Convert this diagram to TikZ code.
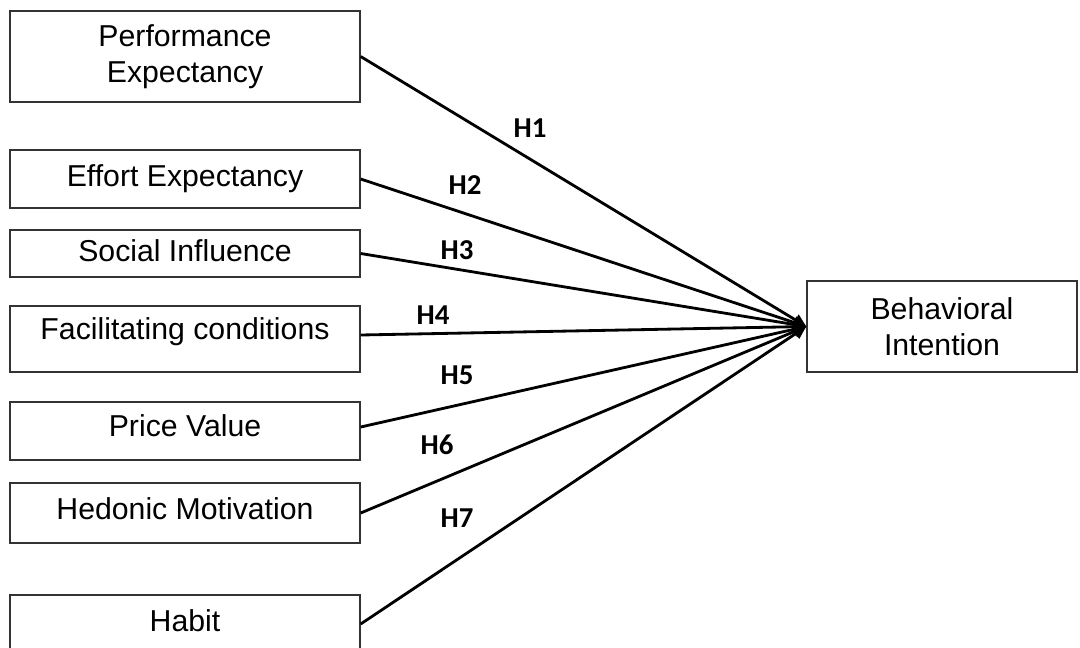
\documentclass[tikz,border=0pt]{standalone}
\usepackage{fontspec}
\setmainfont{Liberation Sans}
\newfontfamily\hfont{Carlito}
\usetikzlibrary{arrows.meta}

\begin{document}
\begin{tikzpicture}[x=0.025cm, y=-0.025cm,
    box/.style={draw=black!80, line width=0.9pt, minimum width=8.75cm, align=center,
        font=\fontsize{21.5}{25.5}\selectfont, inner sep=0pt},
    hyp/.style={font=\hfont\bfseries\fontsize{20.5}{24}\selectfont},
    link/.style={draw, line width=2pt, -{Triangle[length=0.32cm, width=0.3cm]}}]
        \clip (0,0) rectangle (1080,647);
        \useasboundingbox (0,0) rectangle (1080,647);
        \foreach \i/\y/\h/\d/\w in {1/56.5/2.275/0.15/{Performance\\Expectancy}, 2/179/1.45/0.15/{Effort Expectancy},
            3/253.5/1.175/0.15/{Social Influence}, 4/339/1.65/0.5/{Facilitating conditions},
            5/431/1.45/0.25/{Price Value}, 6/513/1.5/0.2/{Hedonic Motivation}, 7/624/1.45/0.15/{Habit}}{
            \node[box, minimum height=\h cm, text depth=\d cm] (b\i) at(185,\y) {\w};
        }
        \node[box, minimum width=6.75cm, minimum height=2.275cm] (bi) at(942,326.5) {Behavioral\\Intention};
        \foreach \i/\x/\y in {1/530/128, 2/465/185, 3/457/250, 4/433/315, 5/457/375, 6/437/445, 7/457/518}{
            \node[hyp] (h\i) at(\x,\y) {H\i};
        }
        \path[link] (b1.east) -- (bi.west);
        \path[link] (b2.east) -- (bi.west);
        \path[link] (b3.east) -- (bi.west);
        \path[link] ([yshift=0.1cm]b4.east) -- (bi.west);
        \path[link] ([yshift=0.1cm]b5.east) -- (bi.west);
        \path[link] (b6.east) -- (bi.west);
        \path[link] (b7.east) -- (bi.west);
    \end{tikzpicture}
\end{document}
